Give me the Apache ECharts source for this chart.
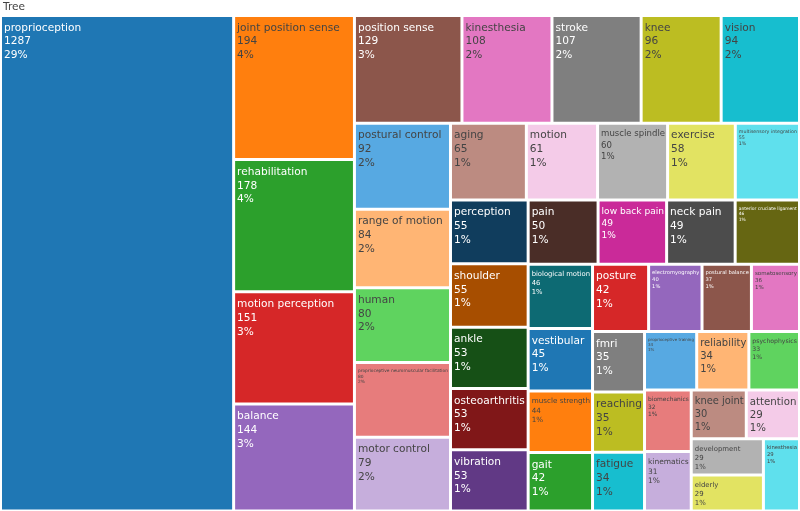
<!DOCTYPE html>
<html>
<head>
<meta charset="utf-8">
<script src="https://cdn.jsdelivr.net/npm/echarts@6/dist/echarts.min.js"></script>
<style>
  html, body { margin: 0; padding: 0; background: #fff; }
  #chart { width: 800px; height: 511px; }
</style>
</head>
<body>
<div id="chart"></div>
<script>
// keywords, already ordered by count (desc)
const keywords = [
  'proprioception', 'joint position sense', 'rehabilitation', 'motion perception', 'balance',
  'position sense', 'kinesthesia', 'stroke', 'knee', 'vision',
  'postural control', 'range of motion', 'human', 'proprioceptive neuromuscular facilitation', 'motor control',
  'aging', 'motion', 'muscle spindle', 'exercise', 'multisensory integration',
  'perception', 'shoulder', 'ankle', 'osteoarthritis', 'vibration',
  'pain', 'low back pain', 'neck pain', 'anterior cruciate ligament', 'biological motion',
  'vestibular', 'muscle strength', 'gait', 'posture', 'electromyography',
  'postural balance', 'somatosensory', 'fmri', 'reaching', 'fatigue',
  'proprioceptive training', 'reliability', 'psychophysics', 'biomechanics', 'kinematics',
  'knee joint', 'attention', 'development', 'elderly', 'kinesthesia'
];
const counts = [
  1287, 194, 178, 151, 144,
  129, 108, 107, 96, 94,
  92, 84, 80, 80, 79,
  65, 61, 60, 58, 55,
  55, 55, 53, 53, 53,
  50, 49, 49, 46, 46,
  45, 44, 42, 42, 40,
  37, 36, 35, 35, 34,
  34, 34, 33, 32, 31,
  30, 29, 29, 29, 29
];

// plotly-like colorway: base, lighter, darker
const palette = [
  '#1f77b4', '#ff7f0e', '#2ca02c', '#d62728', '#9467bd', '#8c564b', '#e377c2', '#7f7f7f', '#bcbd22', '#17becf',
  '#57a9e2', '#ffb574', '#5fd35f', '#e77c7c', '#c6aedc', '#bc8b81', '#f4cbe8', '#b2b2b2', '#e2e362', '#5fe0ed',
  '#103d5d', '#a74e00', '#165016', '#801718', '#613985', '#4a2d27', '#ca2a99', '#4c4c4c', '#666612', '#0d6a73'
];

const FONT = '"DejaVu Sans", Verdana, sans-serif';
const MAX_FS = 10.6;
const LH = 1.3;
const total = counts.reduce((a, b) => a + b, 0);

const ctx = document.createElement('canvas').getContext('2d');
ctx.font = MAX_FS + 'px ' + FONT;

function textColor(hex) {
  const r = parseInt(hex.substr(1, 2), 16);
  const g = parseInt(hex.substr(3, 2), 16);
  const b = parseInt(hex.substr(5, 2), 16);
  return (r * 299 + g * 587 + b * 114) / 1000 >= 128 ? '#444' : '#fff';
}

function labelLines(i) {
  return [keywords[i], String(counts[i]), Math.round(counts[i] / total * 100) + '%'];
}

function buildData(rects) {
  return keywords.map((k, i) => {
    const col = palette[i % palette.length];
    let fs = MAX_FS;
    if (rects && rects[i]) {
      const lines = labelLines(i);
      const tw = Math.max.apply(null, lines.map(s => ctx.measureText(s).width));
      const byW = MAX_FS * (rects[i].width - 6) / tw;
      const byH = (rects[i].height - 9) / (lines.length * LH);
      fs = Math.min(MAX_FS, byW, byH);
    }
    return {
      name: k,
      value: counts[i],
      itemStyle: { color: col },
      label: { color: textColor(col), fontSize: fs, lineHeight: fs * LH }
    };
  });
}

const chart = echarts.init(document.getElementById('chart'));

const option = {
  animation: false,
  title: {
    text: 'Tree',
    left: 3,
    top: 2,
    padding: 0,
    textStyle: { fontFamily: FONT, fontSize: MAX_FS, fontWeight: 'normal', color: '#444' }
  },
  series: [{
    type: 'treemap',
    name: 'Tree',
    left: 0.5,
    top: 15.5,
    right: 0.5,
    bottom: 0,
    roam: false,
    nodeClick: false,
    sort: false,
    squareRatio: 1.05,
    visibleMin: 0,
    breadcrumb: { show: false },
    label: {
      show: true,
      position: 'insideTopLeft',
      fontFamily: FONT,
      overflow: 'none',
      padding: [4, 2, 0, 2],
      formatter: p => labelLines(p.dataIndex - 1).join('\n')
    },
    upperLabel: { show: false },
    itemStyle: { borderWidth: 1.5, gapWidth: 0, borderColor: '#fff' },
    levels: [
      { itemStyle: { borderWidth: 0, gapWidth: 0 } },
      { itemStyle: { borderWidth: 1.5, borderColor: '#fff' } }
    ],
    data: buildData(null)
  }]
};
chart.setOption(option);

// second pass: shrink labels to fit their cells
try {
  const sd = chart.getModel().getSeriesByIndex(0).getData();
  const rects = sd.tree.root.children.map(n => n.getLayout());
  chart.setOption({ series: [{ data: buildData(rects) }] });
} catch (e) {
  console.log(e);
}
</script>
</body>
</html>
